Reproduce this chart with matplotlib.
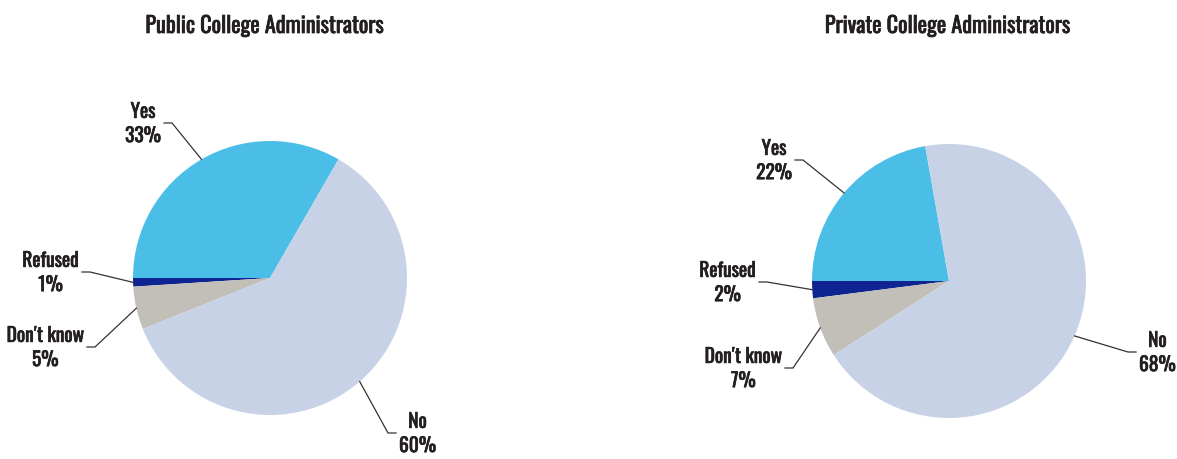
import matplotlib
matplotlib.use('Agg')
import matplotlib.pyplot as plt
import matplotlib.patheffects as pe
from matplotlib import font_manager
import numpy as np

# survey answers, in counterclockwise drawing order
categories = ['Yes', 'Refused', "Don\u2032t know", 'No']
public_pct = [33, 1, 5, 60]
private_pct = [22, 2, 7, 68]
titles = ['Public College Administrators', 'Private College Administrators']

colors = ['#4bbee8', '#0e2591', '#c2bfb8', '#c8d2e6']
text_color = '#231f20'

# narrow grotesque for all text, stroked a little to give it more weight
names = {f.name for f in font_manager.fontManager.ttflist}
family = next((n for n in ['Oswald', 'Barlow Condensed', 'Roboto Condensed'] if n in names),
              'DejaVu Sans')
plt.rcParams['font.family'] = [family, 'DejaVu Sans']
heavy = [pe.withStroke(linewidth=0.5, foreground=text_color)]

W, H = 1177, 459
fig = plt.figure(figsize=(W / 100, H / 100), dpi=100)
ax = fig.add_axes([0, 0, 1, 1])

# pie layout in pixels (y measured from the top) and elbow offsets of the leaders
pies = [
    dict(center=(270, 278), title_x=265,
         elbows=[(-98, -155, -1), (-180, -6, -1), (-175, 69, -1), (118, 155, 1)]),
    dict(center=(949, 281), title_x=948,
         elbows=[(-146, -121, -1), (-182, 1, -1), (-156, 87, -1), (179, 71, 1)]),
]
radius = 137
tail = 8

for vals, title, p in zip([public_pct, private_pct], titles, pies):
    cx, cy = p['center']
    cy = H - cy
    start = 180 - 360 * vals[0] / sum(vals)
    wedges, _ = ax.pie(vals, colors=colors, startangle=start, center=(cx, cy),
                       radius=radius, wedgeprops=dict(linewidth=0))
    for w, cat, v, (ex, ey, side) in zip(wedges, categories, vals, p['elbows']):
        mid = np.deg2rad((w.theta1 + w.theta2) / 2)
        x0 = cx + radius * np.cos(mid)
        y0 = cy + radius * np.sin(mid)
        x1, y1 = cx + ex, cy - ey
        x2 = x1 + side * tail
        ax.plot([x0, x1, x2], [y0, y1, y1], color='#333333', lw=0.9,
                solid_joinstyle='miter')
        ax.text(x2 + side * 3, y1, f'{cat}\n{v}%', ha='left' if side > 0 else 'right',
                va='center', multialignment='center', fontsize=14,
                color=text_color, linespacing=1.25, path_effects=heavy)
    ax.text(p['title_x'], H - 26, title, ha='center', va='center', fontsize=16,
            color=text_color, path_effects=heavy)

ax.set_xlim(0, W)
ax.set_ylim(0, H)
ax.set_aspect('equal')
ax.axis('off')

fig.savefig('out.png', dpi=100)
